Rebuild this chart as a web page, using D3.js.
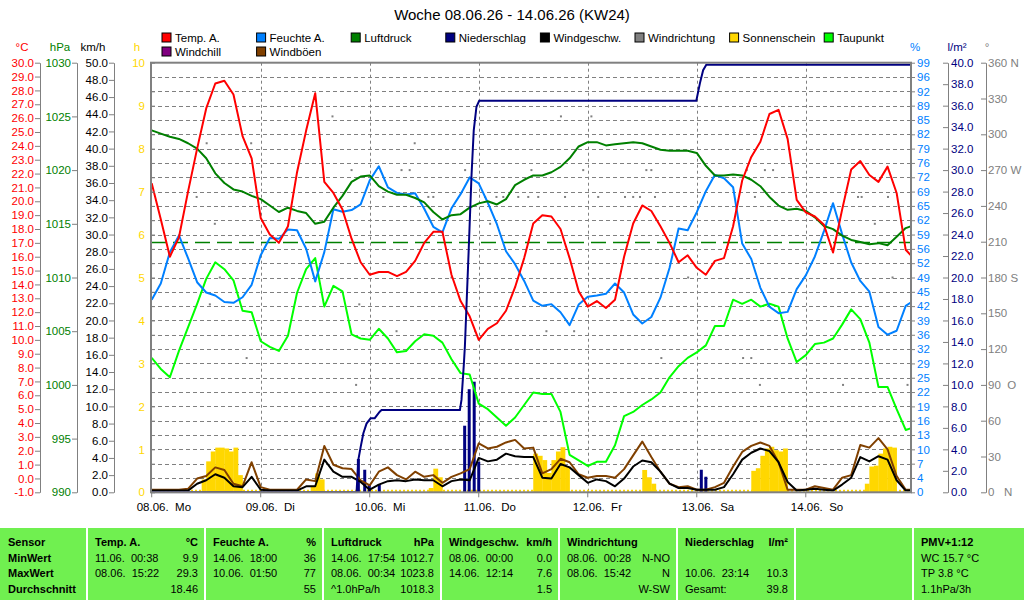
<!DOCTYPE html>
<html>
<head>
<meta charset="utf-8">
<script src="https://cdnjs.cloudflare.com/ajax/libs/d3/7.8.5/d3.min.js"></script>
<style>
body { margin: 0; background: #fff; }
svg { display: block; font-family: "Liberation Sans", Arial, sans-serif; }
</style>
</head>
<body>
<div id="chart"></div>
<script>
// Woche 08.06.26 - 14.06.26, Werte alle 2 Stunden (Stunden ab 08.06. 00:00)
const times = d3.range(0, 169, 2);

const temp = [21.3,18.7,16.0,17.4,20.7,23.8,26.7,28.5,28.7,27.7,24.7,23.1,18.8,17.6,17.0,18.2,22.1,25.1,27.8,21.4,
  20.6,19.4,17.3,15.6,14.7,14.9,14.9,14.6,14.9,15.7,17.0,17.8,17.8,14.7,12.8,11.7,10.0,10.8,11.2,12.1,
  13.8,15.9,18.4,19.0,18.9,18.0,15.9,13.5,12.4,12.8,12.3,12.9,16.0,18.4,19.7,19.3,18.2,17.0,15.6,16.1,
  15.2,14.7,15.7,15.9,18.2,21.5,23.2,24.3,26.3,26.6,24.5,20.1,19.2,18.9,18.3,16.3,19.4,22.3,22.9,21.9,
  21.4,22.5,20.6,16.5,15.8];

const humidity = [44.8,48.6,55.9,59.8,54.5,48.9,46.5,45.8,44.3,44.1,45.4,48.3,55.2,59.2,59.0,61.2,61.0,56.7,49.1,55.9,
  65.9,65.3,65.7,67.0,72.6,75.9,71.0,69.7,69.3,69.6,66.0,61.8,60.5,66.1,69.4,73.3,71.9,67.4,62.4,56.1,
  53.1,49.2,44.6,43.4,43.8,41.9,38.9,43.7,45.5,45.8,46.2,48.6,46.5,41.4,39.3,40.8,45.3,52.2,61.4,61.0,
  65.2,70.1,73.9,73.1,71.0,57.9,54.3,47.6,43.2,41.7,42.0,47.3,50.5,54.9,60.8,67.3,60.1,53.5,49.2,46.7,
  38.5,36.7,37.6,43.4,44.8];

const pressure = [1023.7,1023.4,1023.1,1022.9,1022.5,1022.0,1021.1,1019.7,1018.8,1018.2,1018.0,1017.6,1017.3,1016.7,1016.1,1016.5,1016.2,1016.0,1015.0,1015.2,
  1016.5,1017.6,1018.9,1019.4,1019.5,1018.5,1018.0,1017.7,1017.7,1017.4,1017.0,1016.1,1015.4,1015.8,1015.9,1016.5,1016.9,1017.1,1016.8,1017.3,
  1018.6,1019.1,1019.5,1019.5,1019.8,1020.3,1021.1,1022.2,1022.6,1022.6,1022.3,1022.4,1022.5,1022.6,1022.5,1022.2,1021.9,1021.8,1021.8,1021.8,
  1021.6,1020.4,1019.5,1019.5,1019.6,1019.5,1019.1,1018.5,1017.5,1016.7,1016.3,1016.4,1016.2,1015.6,1014.8,1014.5,1013.9,1013.5,1013.3,1013.1,
  1013.2,1013.0,1013.8,1014.6,1014.9];

const dewPoint = [8.7,7.9,7.3,9.2,10.9,12.6,14.4,15.6,15.1,14.3,12.1,12.0,9.9,9.5,9.2,10.3,13.4,15.1,15.9,12.4,
  13.9,13.5,10.4,10.1,10.0,10.8,10.1,9.1,9.2,9.9,10.4,10.3,9.8,8.6,7.6,7.5,5.4,5.0,4.4,3.8,
  4.4,5.3,6.2,6.1,6.1,4.8,1.7,1.3,0.9,1.2,1.2,2.4,4.5,4.8,5.3,5.7,6.2,7.3,8.1,8.7,
  9.1,9.6,11.0,11.0,12.9,12.6,12.9,12.4,12.6,12.4,10.1,8.4,8.9,9.7,9.8,10.1,11.1,12.2,11.5,9.8,
  6.6,6.6,5.0,3.5,3.7];

const windSpeed = [0.2,0.2,0.2,0.2,0.2,1.0,1.4,2.1,1.7,0.7,0.6,1.8,0.3,0.2,0.2,0.2,0.2,0.7,0.7,3.8,
  2.4,1.8,1.8,1.2,0.3,0.9,1.3,1.4,1.3,1.5,1.4,1.4,0.7,1.3,1.5,1.4,4.0,3.6,3.8,4.5,
  4.2,4.1,4.1,1.7,1.6,3.3,2.9,2.0,1.1,1.5,1.3,0.7,1.6,3.0,3.7,3.5,2.4,1.0,0.5,0.5,
  0.3,0.3,0.3,0.6,2.1,3.8,4.6,5.1,4.8,3.5,1.2,0.2,0.3,0.4,0.3,0.2,0.9,1.7,4.1,3.6,
  4.2,3.8,1.4,0.2,0.2];

const windGust = [0.3,0.3,0.3,0.3,0.4,1.6,1.9,2.9,2.6,1.0,0.7,3.5,0.6,0.3,0.3,0.3,0.3,1.5,1.3,5.4,
  3.2,2.8,2.7,1.4,0.8,2.4,2.9,2.0,1.5,2.4,1.8,2.0,1.1,1.8,2.2,2.7,5.7,5.1,5.3,5.8,
  6.1,5.1,5.2,2.2,2.7,3.9,3.5,2.1,1.7,1.9,1.9,1.7,2.7,4.3,5.9,4.1,2.4,1.0,0.6,0.7,
  0.3,0.3,0.6,1.1,3.0,4.7,5.4,5.8,5.4,3.5,0.3,0.3,0.3,0.7,0.5,0.3,1.7,2.0,5.5,5.2,
  6.3,5.0,1.9,0.3,0.3];

// Sonnenschein je Stunde (h)
const sunHours = [11,12,13,14,15,16,17,18,19, 35,36,37, 61,62,63, 84,85,86,87,88,89,90,91,
  108,109,110, 132,133,134,135,136,137,138,139, 157,158,159,160,161,162,163];
const sunValues = [0.3,0.72,0.95,1.04,1.04,1.02,0.95,1.04,0.4, 0.15,0.44,0.3, 0.1,0.55,0.35,
  0.9,0.85,0.75,0.45,0.75,0.95,1.05,0.6, 0.52,0.35,0.2, 0.5,0.56,0.85,1.02,1.06,0.98,0.95,1.02,
  0.2,0.6,0.62,0.9,1.02,1.06,1.04];

// Niederschlag: Einzelwerte und Summe (l/m²)
const rainTimes = [45.5,46.9,47.9,50.1,68.9,69.9,71.0,72.0,121.0,122.0];
const rainValues = [3.1,2.1,0.75,0.75,6.2,9.6,10.3,2.85,2.1,1.45];
const rainSumTimes = [0,45.1,45.5,46.0,46.6,47.3,48.2,49.1,50.2,50.6,67.85,68.2,68.7,68.95,69.7,70.4,70.9,71.5,72.1,119.9,120.7,121.4,122.1,168];
const rainSum = [0,0,3.05,4.2,5.5,6.4,6.9,6.9,7.5,7.66,7.66,8.6,11.8,13.6,21.6,29.4,33.7,35.9,36.46,36.46,38.1,39.3,39.8,39.8];

// Windrichtung (Grad)
const dirTimes = [9.9,12.1,12.8,13.9,15.0,20.9,21.9,39.8,44.0,45.0,45.7,51.0,53.9,55.0,56.8,57.9,60.9,62.0,66.0,69.0,
  71.2,73.4,74.5,75.9,77.4,80.7,82.9,83.6,85.1,86.9,90.1,91.0,93.0,95.0,96.8,98.3,104.2,106.0,107.5,108.9,
  110.0,110.8,112.2,118.1,130.2,131.0,132.0,132.8,133.9,135.0,136.8,152.2,155.5,156.3,159.2,162.1,163.1,166.4];
const dirValues = [247.5,292.5,157.5,225,180,112.5,292.5,315,270,90,157.5,247.5,135,270,270,292.5,247.5,247.5,180,270,
  135,247.5,225,247.5,247.5,247.5,247.5,270,247.5,135,315,247.5,135,270,315,247.5,247.5,247.5,247.5,270,
  270,247.5,112.5,180,112.5,270,112.5,247.5,90,270,270,90,247.5,247.5,225,247.5,180,90];

const dayLabels = ["08.06.  Mo","09.06.  Di","10.06.  Mi","11.06.  Do","12.06.  Fr","13.06.  Sa","14.06.  So"];
const humidityTickLabels = [0,4,7,10,13,16,19,22,25,29,32,36,39,42,45,49,52,56,59,62,65,69,72,76,79,82,85,89,92,96,99];
const dirTickLabels = ["0   N","30","60","90  O","120","150","180 S","210","240","270 W","300","330","360 N"];

const legendNames = ["Temp. A.","Feuchte A.","Luftdruck","Niederschlag","Windgeschw.","Windrichtung","Sonnenschein","Taupunkt","Windchill","Windböen"];
const legendColors = ["#ff0000","#0080ff","#008000","#000080","#000000","#808080","#ffd700","#00ff00","#800080","#804000"];

const tableHead = [["Sensor",""],["Temp. A.","°C"],["Feuchte A.","%"],["Luftdruck","hPa"],["Windgeschw.","km/h"],
  ["Windrichtung",""],["Niederschlag","l/m²"],["",""],["PMV+1:12",""]];
const rowLabels = ["MinWert","MaxWert","Durchschnitt"];
const rowMin = [["11.06.  00:38","9.9"],["14.06.  18:00","36"],["14.06.  17:54","1012.7"],["08.06.  00:00","0.0"],["08.06.  00:28","N-NO"],["",""],["",""],["WC 15.7 °C",""]];
const rowMax = [["08.06.  15:22","29.3"],["10.06.  01:50","77"],["08.06.  00:34","1023.8"],["14.06.  12:14","7.6"],["08.06.  15:42","N"],["10.06.  23:14","10.3"],["",""],["TP 3.8 °C",""]];
const rowAvg = [["","18.46"],["","55"],["^1.0hPa/h","1018.3"],["","1.5"],["","W-SW"],["Gesamt:","39.8"],["",""],["1.1hPa/3h",""]];

const width = 1024, height = 600;
const plotTop = 62.7, plotBottom = 492.3, plotLeft = 151, plotRight = 911;

const svg = d3.select("#chart").append("svg")
  .attr("width", width)
  .attr("height", height)
  .style("font-size", "11.5px");

const x = d3.scaleLinear().domain([0, 168]).range([151.7, 914.8]);
const yT = d3.scaleLinear().domain([-1, 30]).range([plotBottom, plotTop]);
const yP = d3.scaleLinear().domain([990, 1030]).range([plotBottom, plotTop]);
const yW = d3.scaleLinear().domain([0, 50]).range([plotBottom, plotTop]);
const yS = d3.scaleLinear().domain([0, 10]).range([plotBottom, plotTop]);
const yH = d3.scaleLinear().domain([0, 100]).range([plotBottom, plotTop]);
const yR = d3.scaleLinear().domain([0, 40]).range([plotBottom, plotTop]);
const yD = d3.scaleLinear().domain([0, 360]).range([plotBottom, plotTop]);

// Titel
svg.append("text")
  .attr("x", 512).attr("y", 20)
  .attr("text-anchor", "middle")
  .style("font-size", "15px")
  .text("Woche 08.06.26 - 14.06.26 (KW24)");

// Legende
const leg = svg.selectAll("g.leg")
  .data(legendNames)
  .enter()
  .append("g")
  .attr("class", "leg")
  .attr("transform", (d, i) => i < 8 ? `translate(${162 + i * 94.6},33)` : `translate(${162 + (i - 8) * 94.6},47)`);
leg.append("rect")
  .attr("width", 9).attr("height", 9)
  .attr("fill", (d, i) => legendColors[i])
  .attr("stroke", "#000");
leg.append("text")
  .attr("x", 13).attr("y", 9)
  .text(d => d);

// Einheiten
const units = [
  ["°C", 22, "#ff0000"], ["hPa", 60, "#008000"], ["km/h", 93, "#000"], ["h", 137, "#ffd700"],
  ["%", 915, "#0080ff"], ["l/m²", 957, "#000080"], ["°", 987, "#808080"]
];
svg.selectAll("text.unit")
  .data(units)
  .enter()
  .append("text")
  .attr("class", "unit")
  .attr("x", d => d[1]).attr("y", 51)
  .attr("text-anchor", "middle")
  .attr("fill", d => d[2])
  .text(d => d[0]);

function styleAxis(g, color) {
  g.attr("font-size", null).attr("font-family", null);
  g.select(".domain").attr("stroke", "#808080");
  g.selectAll(".tick line").attr("stroke", "#808080");
  g.selectAll(".tick text").attr("fill", color);
}

// linke Achsen
svg.append("g").attr("transform", "translate(40,0)")
  .call(d3.axisLeft(yT).tickValues(d3.range(-1, 31)).tickFormat(d => d.toFixed(1)).tickSize(5).tickSizeOuter(0).tickPadding(1))
  .call(g => styleAxis(g, "#ff0000"));
svg.append("g").attr("transform", "translate(77,0)")
  .call(d3.axisLeft(yP).tickValues(d3.range(990, 1031, 5)).tickFormat(d => d).tickSize(5).tickSizeOuter(0).tickPadding(1))
  .call(g => styleAxis(g, "#008000"));
svg.append("g").attr("transform", "translate(114,0)")
  .call(d3.axisLeft(yW).tickValues(d3.range(0, 51, 2)).tickFormat(d => d.toFixed(1)).tickSize(5).tickSizeOuter(0).tickPadding(1))
  .call(g => styleAxis(g, "#000"));

// Gitter
const gridVals = d3.range(1, 30).map(i => i * 10 / 30);
svg.append("g").selectAll("line")
  .data(gridVals)
  .enter()
  .append("line")
  .attr("x1", plotLeft).attr("x2", plotRight)
  .attr("y1", d => Math.round(yS(d)) + 0.5).attr("y2", d => Math.round(yS(d)) + 0.5)
  .attr("stroke", "#808080")
  .attr("stroke-dasharray", "4,3");
svg.append("g").selectAll("line")
  .data(d3.range(1, 7))
  .enter()
  .append("line")
  .attr("x1", d => Math.round(x(d * 24)) + 0.5).attr("x2", d => Math.round(x(d * 24)) + 0.5)
  .attr("y1", plotTop).attr("y2", plotBottom)
  .attr("stroke", "#808080")
  .attr("stroke-dasharray", "3,3");

// Normaldruck
svg.append("line")
  .attr("x1", plotLeft).attr("x2", plotRight)
  .attr("y1", yP(1013.25)).attr("y2", yP(1013.25))
  .attr("stroke", "#008000")
  .attr("stroke-width", 1.5)
  .attr("stroke-dasharray", "15,7");

svg.append("clipPath").attr("id", "clip")
  .append("rect").attr("x", plotLeft).attr("y", plotTop - 2).attr("width", plotRight - plotLeft).attr("height", plotBottom - plotTop + 3);
const plot = svg.append("g").attr("clip-path", "url(#clip)");

// Sonnenschein
plot.selectAll("rect.sun")
  .data(sunHours)
  .enter()
  .append("rect")
  .attr("class", "sun")
  .attr("x", d => x(d))
  .attr("width", d => x(d + 1) - x(d) + 0.3)
  .attr("y", (d, i) => yS(sunValues[i]))
  .attr("height", (d, i) => yS(0) - yS(sunValues[i]))
  .attr("fill", "#ffd700");
plot.append("line")
  .attr("x1", plotLeft).attr("x2", plotRight)
  .attr("y1", plotBottom - 1.5).attr("y2", plotBottom - 1.5)
  .attr("stroke", "#ffd700").attr("stroke-width", 2)
  .attr("stroke-dasharray", "2,2");

// Niederschlag Balken
plot.selectAll("rect.rain")
  .data(rainTimes)
  .enter()
  .append("rect")
  .attr("class", "rain")
  .attr("x", d => x(d) - 1.5)
  .attr("width", 3)
  .attr("y", (d, i) => yR(rainValues[i]))
  .attr("height", (d, i) => yR(0) - yR(rainValues[i]))
  .attr("fill", "#000080");

function drawLine(values, scale, color) {
  plot.append("path")
    .datum(values)
    .attr("fill", "none")
    .attr("stroke", color)
    .attr("stroke-width", 2)
    .attr("stroke-linejoin", "round")
    .attr("d", d3.line().x((d, i) => x(times[i])).y(d => scale(d)));
}

drawLine(windGust, yW, "#804000");
drawLine(windSpeed, yW, "#000000");

// Windrichtung
plot.selectAll("rect.dir")
  .data(dirTimes)
  .enter()
  .append("rect")
  .attr("class", "dir")
  .attr("x", d => x(d) - 1)
  .attr("y", (d, i) => yD(dirValues[i]) - 1)
  .attr("width", 2).attr("height", 2)
  .attr("fill", "#808080");

drawLine(dewPoint, yT, "#00ff00");
drawLine(humidity, yH, "#0080ff");
drawLine(pressure, yP, "#008000");
drawLine(temp, yT, "#ff0000");

plot.append("path")
  .datum(rainSum)
  .attr("fill", "none")
  .attr("stroke", "#000080")
  .attr("stroke-width", 2)
  .attr("d", d3.line().x((d, i) => x(rainSumTimes[i])).y(d => yR(d)));

// Rahmen
svg.append("rect")
  .attr("x", plotLeft).attr("y", plotTop).attr("width", plotRight - plotLeft).attr("height", plotBottom - plotTop)
  .attr("fill", "none").attr("stroke", "#808080").attr("stroke-width", 2);

// h-Achse (innen)
svg.append("g").attr("transform", `translate(${plotLeft},0)`)
  .call(d3.axisRight(yS).tickValues(d3.range(0, 31).map(i => i / 3)).tickFormat("").tickSize(4).tickSizeOuter(0))
  .call(g => styleAxis(g, "#ffd700"));
svg.append("g").attr("transform", `translate(${plotLeft},0)`)
  .call(d3.axisLeft(yS).tickValues(d3.range(0, 11)).tickFormat(d => d).tickSize(0).tickSizeOuter(0).tickPadding(6))
  .call(g => styleAxis(g, "#ffd700"))
  .call(g => g.select(".domain").remove());

// rechte Achsen
svg.append("g").attr("transform", `translate(${plotRight},0)`)
  .call(d3.axisRight(yH).tickValues(d3.range(0, 31).map(i => i * 100 / 30)).tickFormat((d, i) => humidityTickLabels[i]).tickSize(4).tickSizeOuter(0).tickPadding(2))
  .call(g => styleAxis(g, "#0080ff"));
svg.append("g").attr("transform", "translate(948,0)")
  .call(d3.axisRight(yR).tickValues(d3.range(0, 41, 2)).tickFormat(d => d.toFixed(1)).tickSize(-5).tickSizeOuter(0).tickPadding(3))
  .call(g => styleAxis(g, "#000080"));
svg.append("g").attr("transform", "translate(986,0)")
  .call(d3.axisRight(yD).tickValues(d3.range(0, 361, 30)).tickFormat((d, i) => dirTickLabels[i]).tickSize(-5).tickSizeOuter(0).tickPadding(2))
  .call(g => styleAxis(g, "#808080"))
  .call(g => g.selectAll(".tick text").style("white-space", "pre"));

// x-Achse
const xAxis = svg.append("g");
xAxis.selectAll("line")
  .data(d3.range(0, 7))
  .enter()
  .append("line")
  .attr("x1", d => x(d * 24)).attr("x2", d => x(d * 24))
  .attr("y1", plotBottom).attr("y2", plotBottom + 5)
  .attr("stroke", "#808080");
xAxis.selectAll("text")
  .data(dayLabels)
  .enter()
  .append("text")
  .attr("x", (d, i) => x(i * 24) - 15)
  .attr("y", 511)
  .style("white-space", "pre")
  .text(d => d);

// Tabelle
const colX = [0, 87, 205, 323, 441, 559, 677, 795, 913, 1024];
const rowY = [545.5, 561.5, 577, 593];
const table = svg.append("g").style("font-size", "11px");
table.append("rect")
  .attr("x", 0).attr("y", 528).attr("width", width).attr("height", height - 528)
  .attr("fill", "#70f050");
table.selectAll("line")
  .data(colX.slice(1, -1))
  .enter()
  .append("line")
  .attr("x1", d => d).attr("x2", d => d)
  .attr("y1", 528).attr("y2", height)
  .attr("stroke", "#fff").attr("stroke-width", 2);

const cells = [];
tableHead.forEach((h, c) => {
  cells.push({ c: c, r: 0, t: h[0], a: "start", b: true });
  cells.push({ c: c, r: 0, t: h[1], a: "end", b: true });
});
rowLabels.forEach((l, r) => cells.push({ c: 0, r: r + 1, t: l, a: "start", b: true }));
[rowMin, rowMax, rowAvg].forEach((row, r) => {
  row.forEach((v, c) => {
    cells.push({ c: c + 1, r: r + 1, t: v[0], a: "start", b: false });
    cells.push({ c: c + 1, r: r + 1, t: v[1], a: "end", b: false });
  });
});
table.selectAll("text")
  .data(cells.filter(d => d.t !== ""))
  .enter()
  .append("text")
  .attr("x", d => d.a === "start" ? colX[d.c] + 8 : colX[d.c + 1] - 7)
  .attr("y", d => rowY[d.r])
  .attr("text-anchor", d => d.a)
  .attr("font-weight", d => d.b ? "bold" : "normal")
  .style("white-space", "pre")
  .text(d => d.t);
</script>
</body>
</html>
